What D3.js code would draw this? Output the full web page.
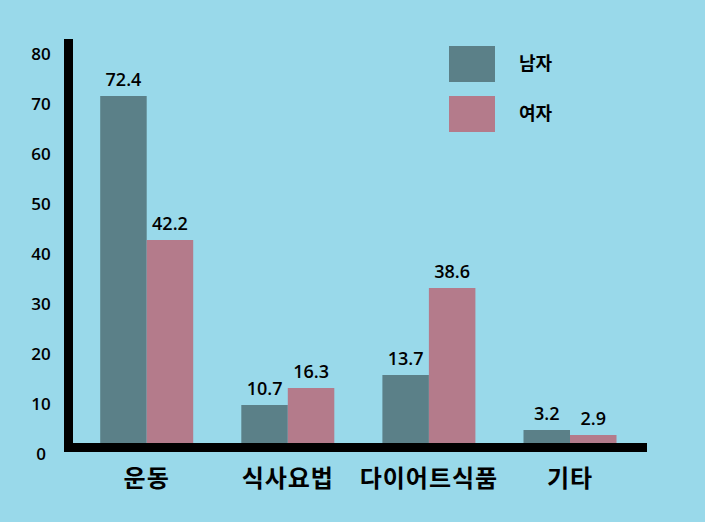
<!DOCTYPE html>
<html lang="ko">
<head>
  <meta charset="UTF-8">
  <title>다이어트 방법</title>
  <style>
    body { margin: 0; background: #99d9ea; }
    svg { display: block; font-family: "Noto Sans CJK KR", "Noto Sans", sans-serif; }
  </style>
</head>
<body>
  <svg id="chart" width="705" height="522"></svg>
  <script src="https://cdn.jsdelivr.net/npm/d3@7"></script>
  <script>
    // 카테고리 / 시리즈
    const categories = ['운동', '식사요법', '다이어트식품', '기타'];
    const series = ['남자', '여자'];
    // 막대 위에 적힌 값
    const maleLabels = [72.4, 10.7, 13.7, 3.2];
    const femaleLabels = [42.2, 16.3, 38.6, 2.9];
    // 그림에서 읽은 막대 높이 (라벨과 꼭 일치하지 않음)
    const maleHeights = [71.6, 9.8, 15.8, 4.8];
    const femaleHeights = [42.8, 13.2, 33.2, 3.8];
    const yTicks = [0, 10, 20, 30, 40, 50, 60, 70, 80];

    const colors = { '남자': '#5b8088', '여자': '#b47b8b' };
    const numFont = '"Open Sans", "Noto Sans", sans-serif';

    const svg = d3.select('#chart');
    svg.append('rect').attr('width', 705).attr('height', 522).attr('fill', '#99d9ea');

    const y = d3.scaleLinear().domain([0, 80]).range([454, 54]);
    const x = d3.scalePoint().domain(categories).range([146.7, 570]);
    const barW = 46.5;
    const base = 447;

    const rows = categories.map((c, i) => ({
      cat: c,
      bars: [
        { s: '남자', h: maleHeights[i], label: maleLabels[i] },
        { s: '여자', h: femaleHeights[i], label: femaleLabels[i] }
      ]
    }));

    const g = svg.selectAll('g.grp').data(rows).enter().append('g')
      .attr('class', 'grp')
      .attr('transform', d => `translate(${x(d.cat)},0)`);

    g.selectAll('rect').data(d => d.bars).enter().append('rect')
      .attr('x', (d, i) => i === 0 ? -barW : 0)
      .attr('y', d => y(d.h))
      .attr('width', barW)
      .attr('height', d => base - y(d.h))
      .attr('fill', d => colors[d.s]);

    g.selectAll('text.val').data(d => d.bars).enter().append('text')
      .attr('class', 'val')
      .attr('x', (d, i) => i === 0 ? -barW / 2 : barW / 2)
      .attr('y', d => y(d.h) - 10)
      .attr('text-anchor', 'middle')
      .attr('font-family', numFont)
      .attr('font-size', 18)
      .attr('font-weight', 600)
      .attr('fill', '#000')
      .text(d => d.label.toFixed(1));

    // 카테고리 라벨
    svg.selectAll('text.cat').data(categories).enter().append('text')
      .attr('class', 'cat')
      .attr('x', d => x(d))
      .attr('y', 487)
      .attr('text-anchor', 'middle')
      .attr('font-size', 24)
      .attr('font-weight', 'bold')
      .attr('letter-spacing', 1)
      .text(d => d);

    // y축 라벨
    const yAxis = d3.axisLeft(y).tickValues(yTicks).tickSize(0).tickPadding(0);
    const ag = svg.append('g').attr('transform', 'translate(41,0)').call(yAxis);
    ag.select('.domain').remove();
    ag.selectAll('text')
      .attr('text-anchor', 'middle')
      .attr('font-family', numFont)
      .attr('font-size', 17)
      .attr('font-weight', 600)
      .attr('fill', '#000');

    // 굵은 축선
    svg.append('rect').attr('x', 64).attr('y', 39).attr('width', 9).attr('height', 413).attr('fill', '#000');
    svg.append('rect').attr('x', 64).attr('y', 443).attr('width', 583).attr('height', 9).attr('fill', '#000');

    // 범례
    const lg = svg.selectAll('g.lg').data(series).enter().append('g')
      .attr('class', 'lg')
      .attr('transform', (d, i) => `translate(449,${46 + i * 50})`);
    lg.append('rect').attr('width', 46).attr('height', 36).attr('fill', d => colors[d]);
    lg.append('text')
      .attr('x', 70).attr('y', 18).attr('dy', '0.35em')
      .attr('font-size', 18).attr('font-weight', 'bold')
      .text(d => d);
  </script>
</body>
</html>
